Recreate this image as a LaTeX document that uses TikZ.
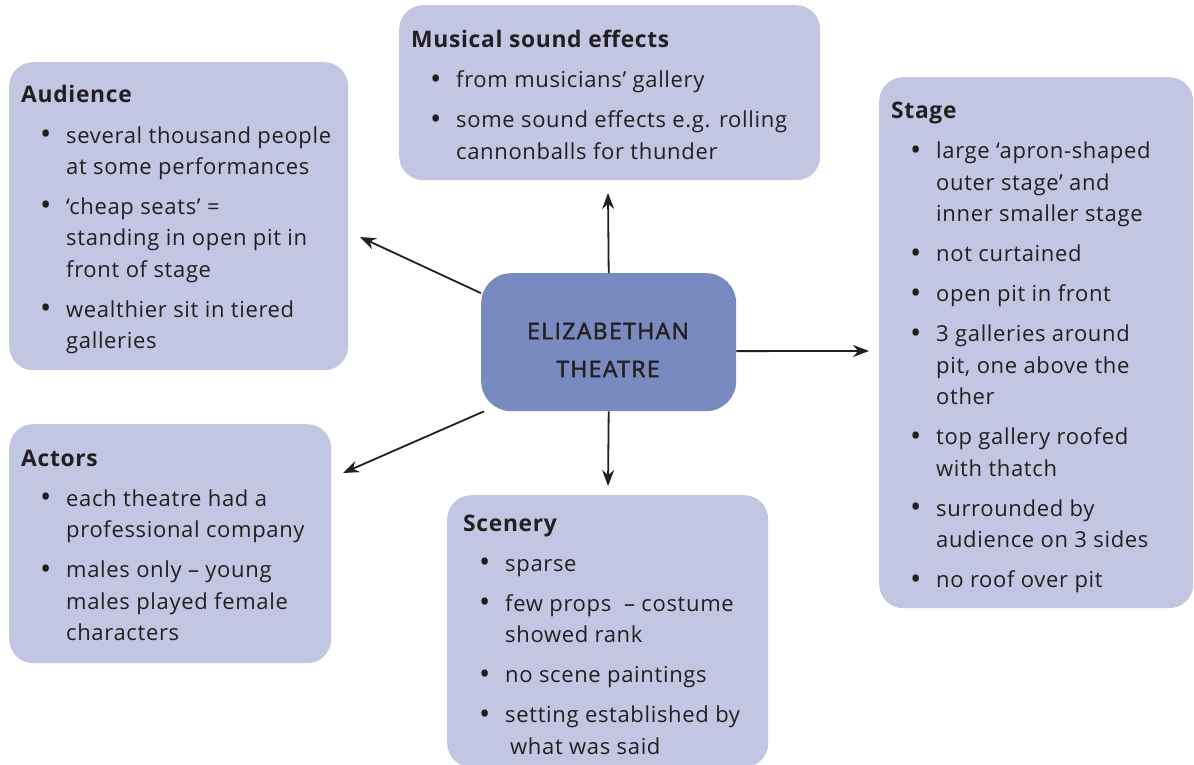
\documentclass[tikz,border=0pt]{standalone}
\usepackage{fontspec}
\setmainfont{Open Sans}[LetterSpace=3]
\newfontfamily\medfont{Open Sans}[LetterSpace=6, FakeBold=2]
\usetikzlibrary{arrows.meta}
\definecolor{boxc}{RGB}{194,198,226}
\definecolor{centc}{RGB}{121,138,192}
\definecolor{ink}{RGB}{35,31,32}
\newcommand{\bul}{\hspace*{19pt}\makebox[26pt][l]{\raisebox{-1.5pt}{\fontsize{30}{30}\selectfont\textbullet}}}
\newcommand{\cont}{\hspace*{45pt}}
\newcommand{\gap}{\\[8.5pt]}
\tikzset{
  box/.style={fill=boxc, draw=none, rounded corners=24pt, inner sep=0pt, anchor=north west},
  centbox/.style={fill=centc, draw=none, rounded corners=30pt, inner sep=0pt, anchor=north west},
  txt/.style={inner sep=0pt, anchor=base west, text=ink, font=\fontsize{22}{31.5}\selectfont},
  arr/.style={-{Stealth[length=16pt,width=12pt]}, line width=1.8pt, draw=ink},
}
\newcommand{\ttl}[1]{{\fontsize{22.8}{31.5}\selectfont\bfseries #1}}
\begin{document}
\begin{tikzpicture}[x=1pt,y=-1pt]
\useasboundingbox (0,0) rectangle (1194,765);
% boxes
\node[box, minimum width=339pt, minimum height=308pt] (aud) at (9,62) {};
\node[box, minimum width=421pt, minimum height=175pt] (mus) at (399,5) {};
\node[box, minimum width=314pt, minimum height=531pt] (stg) at (879,77) {};
\node[box, minimum width=322pt, minimum height=239pt] (act) at (9,424) {};
\node[box, minimum width=321pt, minimum height=272pt] (scn) at (447,495) {};
\node[centbox, minimum width=255pt, minimum height=138pt] (cen) at (481,273) {};
% centre text
\node[inner sep=0pt, text=ink, align=center, font=\medfont\fontsize{23}{38}\selectfont] (cent) at (608,350) {ELIZABETHAN\\THEATRE};
% texts
\node[txt] (audt) at (21,103) {\parbox[t]{330pt}{\raggedright
\ttl{Audience}\gap
\bul several thousand people\\
\cont at some performances\gap
\bul `cheap seats' =\\
\cont standing in open pit in\\
\cont front of stage\gap
\bul wealthier sit in tiered\\
\cont galleries}};
\node[txt] (must) at (411,48) {\parbox[t]{410pt}{\raggedright
\ttl{Musical sound effects}\gap
\bul from musicians' gallery\gap
\bul some sound effects e.g. rolling\\
\cont cannonballs for thunder}};
\node[txt] (stgt) at (891,119) {\parbox[t]{310pt}{\raggedright
\ttl{Stage}\gap
\bul large `apron-shaped\\
\cont outer stage' and\\
\cont inner smaller stage\gap
\bul not curtained\gap
\bul open pit in front\gap
\bul 3 galleries around\\
\cont pit, one above the\\
\cont other\gap
\bul top gallery roofed\\
\cont with thatch\gap
\bul surrounded by\\
\cont audience on 3 sides\gap
\bul no roof over pit}};
\node[txt] (actt) at (21,466) {\parbox[t]{320pt}{\raggedright
\ttl{Actors}\gap
\bul each theatre had a\\
\cont professional company\gap
\bul males only -- young\\
\cont males played female\\
\cont characters}};
\node[txt] (scnt) at (463,531) {\parbox[t]{310pt}{\raggedright
\ttl{Scenery}\gap
\hspace*{-3pt}\bul sparse\gap
\hspace*{-3pt}\bul few props\ \ -- costume\\
\hspace*{-3pt}\cont showed rank\gap
\hspace*{-3pt}\bul no scene paintings\gap
\hspace*{-3pt}\bul setting established by\\
\cont\hspace*{2pt}what was said}};
% arrow ends
\coordinate (aend) at (360,237);
\coordinate (acend) at (343,473);
\coordinate (uend) at (608,193);
\coordinate (dend) at (608,486);
\coordinate (rend) at (869,351);
\draw[arr] (cen.159) -- (aend);
\draw[arr] (cen.209) -- (acend);
\draw[arr] (cen.north) -- (uend);
\draw[arr] (cen.south) -- (dend);
\draw[arr] (cen.-4.3) -- (rend);
\end{tikzpicture}
\end{document}
